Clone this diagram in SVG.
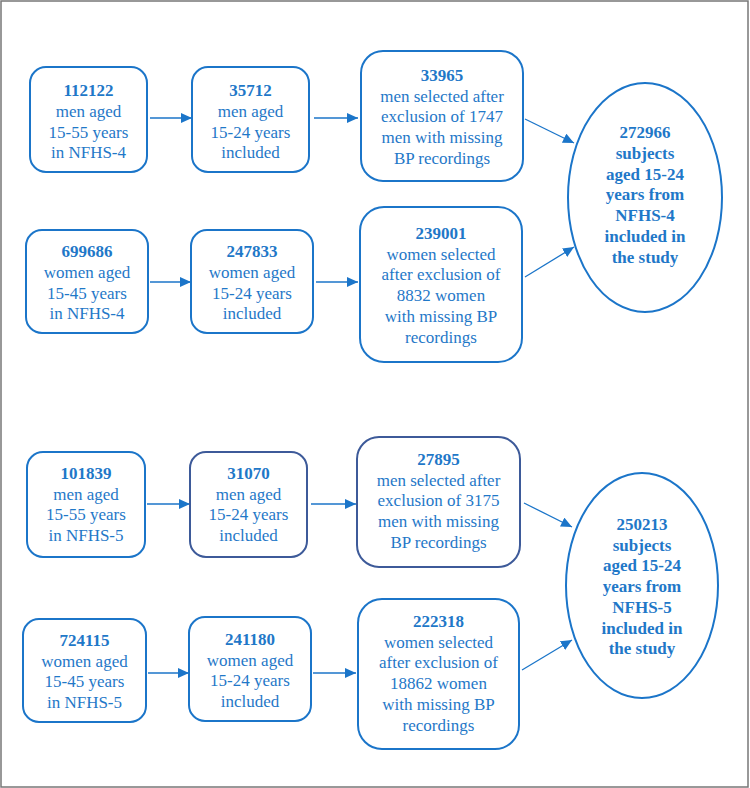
<svg xmlns="http://www.w3.org/2000/svg" width="750" height="788" viewBox="0 0 750 788">
<style>
  .box { fill: #ffffff; stroke: #1b75c9; stroke-width: 2; }
  .dark { stroke: #3d5a99; }
  .ell { fill: #ffffff; stroke: #1b75c9; stroke-width: 2; }
  text { font-family: 'Liberation Serif', 'DejaVu Serif', 'Times New Roman', serif; font-size: 17px; fill: #1f78c8; text-anchor: middle; }
  .b { font-weight: bold; }
  .con { stroke: #1b75c9; stroke-width: 1.3; fill: none; marker-end: url(#ah); }
</style>
<defs>
  <marker id="ah" markerUnits="userSpaceOnUse" markerWidth="12" markerHeight="10" refX="11" refY="5" orient="auto">
    <path d="M0,0 L11,5 L0,10 Z" fill="#1b75c9"/>
  </marker>
</defs>
<rect x="1" y="1" width="747" height="786" fill="#ffffff" stroke="#777777" stroke-width="1.5"/>

<g id="connectors">
  <line class="con" x1="150" y1="118" x2="192" y2="118"/>
  <line class="con" x1="314" y1="118" x2="358" y2="118"/>
  <line class="con" x1="150" y1="282" x2="191" y2="282"/>
  <line class="con" x1="316" y1="282" x2="358" y2="282"/>
  <line class="con" x1="525" y1="119" x2="574" y2="143"/>
  <line class="con" x1="525" y1="277" x2="574" y2="247"/>
  <line class="con" x1="147" y1="504" x2="190" y2="504"/>
  <line class="con" x1="311" y1="504" x2="356" y2="504"/>
  <line class="con" x1="148" y1="673" x2="189" y2="673"/>
  <line class="con" x1="313" y1="673" x2="356" y2="673"/>
  <line class="con" x1="524" y1="503" x2="572" y2="527"/>
  <line class="con" x1="522" y1="670" x2="572" y2="640"/>
</g>

<g id="n4_men_all">
  <rect class="box" x="30" y="67" width="117" height="105" rx="16"/>
  <text x="88.5" y="96"><tspan class="b">112122</tspan><tspan x="88.5" dy="20.8">men aged</tspan><tspan x="88.5" dy="20.8">15-55 years</tspan><tspan x="88.5" dy="20.8">in NFHS-4</tspan></text>
</g>
<g id="n4_men_age">
  <rect class="box" x="192" y="67" width="117" height="105" rx="16"/>
  <text x="250.5" y="96"><tspan class="b">35712</tspan><tspan x="250.5" dy="20.8">men aged</tspan><tspan x="250.5" dy="20.8">15-24 years</tspan><tspan x="250.5" dy="20.8">included</tspan></text>
</g>
<g id="n4_men_sel">
  <rect class="box" x="361" y="51" width="162" height="130" rx="22"/>
  <text x="442" y="81"><tspan class="b">33965</tspan><tspan x="442" dy="20.7">men selected after</tspan><tspan x="442" dy="20.7">exclusion of 1747</tspan><tspan x="442" dy="20.7">men with missing</tspan><tspan x="442" dy="20.7">BP recordings</tspan></text>
</g>
<g id="n4_women_all">
  <rect class="box" x="26" y="230" width="122" height="103" rx="16"/>
  <text x="87" y="257"><tspan class="b">699686</tspan><tspan x="87" dy="20.8">women aged</tspan><tspan x="87" dy="20.8">15-45 years</tspan><tspan x="87" dy="20.8">in NFHS-4</tspan></text>
</g>
<g id="n4_women_age">
  <rect class="box" x="191" y="230" width="122" height="103" rx="16"/>
  <text x="252" y="257"><tspan class="b">247833</tspan><tspan x="252" dy="20.8">women aged</tspan><tspan x="252" dy="20.8">15-24 years</tspan><tspan x="252" dy="20.8">included</tspan></text>
</g>
<g id="n4_women_sel">
  <rect class="box" x="360" y="207" width="162" height="155" rx="24"/>
  <text x="441" y="239"><tspan class="b">239001</tspan><tspan x="441" dy="20.7">women selected</tspan><tspan x="441" dy="20.7">after exclusion of</tspan><tspan x="441" dy="20.7">8832 women</tspan><tspan x="441" dy="20.7">with missing BP</tspan><tspan x="441" dy="20.7">recordings</tspan></text>
</g>
<g id="n4_total">
  <ellipse class="ell" cx="645" cy="197.5" rx="77" ry="114.5"/>
  <text class="b" x="645" y="138"><tspan>272966</tspan><tspan x="645" dy="20.8">subjects</tspan><tspan x="645" dy="20.8">aged 15-24</tspan><tspan x="645" dy="20.8">years from</tspan><tspan x="645" dy="20.8">NFHS-4</tspan><tspan x="645" dy="20.8">included in</tspan><tspan x="645" dy="20.8">the study</tspan></text>
</g>

<g id="n5_men_all">
  <rect class="box" x="27" y="452" width="118" height="105" rx="16"/>
  <text x="86" y="479"><tspan class="b">101839</tspan><tspan x="86" dy="20.7">men aged</tspan><tspan x="86" dy="20.7">15-55 years</tspan><tspan x="86" dy="20.7">in NFHS-5</tspan></text>
</g>
<g id="n5_men_age">
  <rect class="box dark" x="190" y="452" width="117" height="105" rx="16"/>
  <text x="248.5" y="479"><tspan class="b">31070</tspan><tspan x="248.5" dy="20.7">men aged</tspan><tspan x="248.5" dy="20.7">15-24 years</tspan><tspan x="248.5" dy="20.7">included</tspan></text>
</g>
<g id="n5_men_sel">
  <rect class="box dark" x="357" y="437" width="163" height="130" rx="22"/>
  <text x="438.5" y="465"><tspan class="b">27895</tspan><tspan x="438.5" dy="20.7">men selected after</tspan><tspan x="438.5" dy="20.7">exclusion of 3175</tspan><tspan x="438.5" dy="20.7">men with missing</tspan><tspan x="438.5" dy="20.7">BP recordings</tspan></text>
</g>
<g id="n5_women_all">
  <rect class="box" x="23" y="619" width="123" height="103" rx="16"/>
  <text x="84.5" y="646"><tspan class="b">724115</tspan><tspan x="84.5" dy="20.7">women aged</tspan><tspan x="84.5" dy="20.7">15-45 years</tspan><tspan x="84.5" dy="20.7">in NFHS-5</tspan></text>
</g>
<g id="n5_women_age">
  <rect class="box" x="189" y="617" width="122" height="104" rx="16"/>
  <text x="250" y="645"><tspan class="b">241180</tspan><tspan x="250" dy="20.7">women aged</tspan><tspan x="250" dy="20.7">15-24 years</tspan><tspan x="250" dy="20.7">included</tspan></text>
</g>
<g id="n5_women_sel">
  <rect class="box" x="358" y="599" width="161" height="150" rx="24"/>
  <text x="438.5" y="627"><tspan class="b">222318</tspan><tspan x="438.5" dy="20.7">women selected</tspan><tspan x="438.5" dy="20.7">after exclusion of</tspan><tspan x="438.5" dy="20.7">18862 women</tspan><tspan x="438.5" dy="20.7">with missing BP</tspan><tspan x="438.5" dy="20.7">recordings</tspan></text>
</g>
<g id="n5_total">
  <ellipse class="ell" cx="642" cy="585.5" rx="76" ry="112.5"/>
  <text class="b" x="642" y="530"><tspan>250213</tspan><tspan x="642" dy="20.7">subjects</tspan><tspan x="642" dy="20.7">aged 15-24</tspan><tspan x="642" dy="20.7">years from</tspan><tspan x="642" dy="20.7">NFHS-5</tspan><tspan x="642" dy="20.7">included in</tspan><tspan x="642" dy="20.7">the study</tspan></text>
</g>
</svg>
